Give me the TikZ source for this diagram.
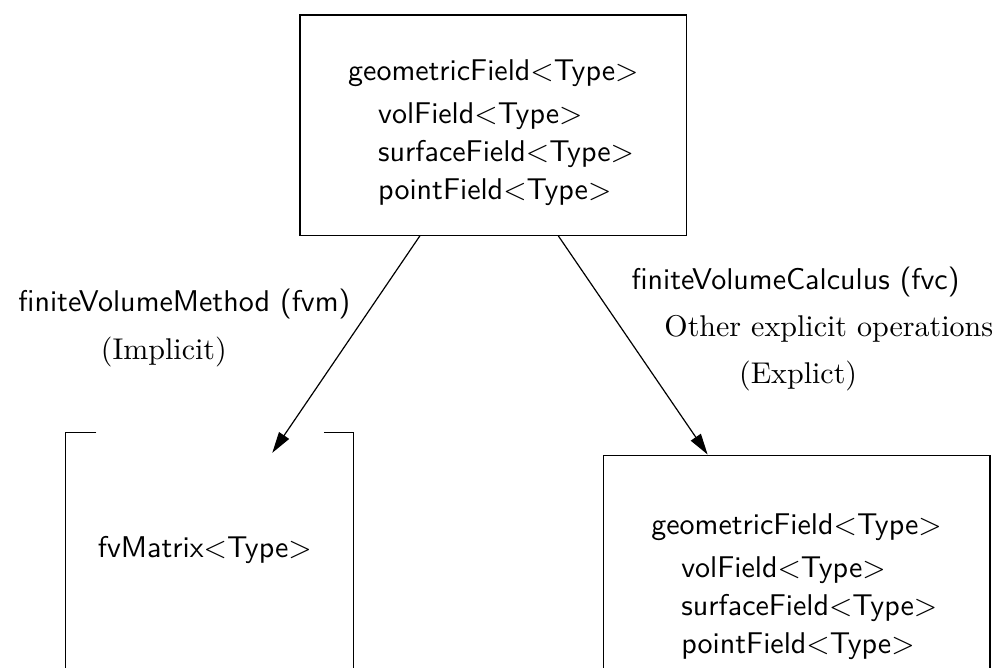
\documentclass[tikz,border=0pt]{standalone}
\usepackage{tikz}
\usetikzlibrary{positioning, calc, arrows.meta}
\newcommand{\tmpl}[1]{\textsf{#1}$<$\textsf{Type}$>$}
\newcommand{\fieldlist}{\tmpl{geometricField}\rule{0pt}{12pt}\\[2.3pt]
  \hspace*{10pt}\tmpl{volField}\\[0.7pt]
  \hspace*{10pt}\tmpl{surfaceField}\\[0.7pt]
  \hspace*{10pt}\tmpl{pointField}}
\tikzset{fieldbox/.style={rectangle, draw=black, minimum width=4.53cm, minimum height=2.58cm, align=left, inner sep=0pt},
         openbox/.style={rectangle, minimum width=3.36cm, minimum height=2.9cm, inner sep=0pt},
         lbl/.style={anchor=base, inner sep=0pt},
         link/.style={-{Triangle[length=7pt, width=4pt]}}}

\begin{document}
\begin{tikzpicture}
        \useasboundingbox (0,0) rectangle (11.68,7.825);
        \node (geo)[fieldbox] at (5.78,6.36) {\fieldlist};
        \node (fvc)[fieldbox, minimum height=2.91cm, anchor=north west] at (7.06,2.50) {\fieldlist};
        \node (mat)[openbox, anchor=north west] at (0.77,2.76) {};
        \node (mattxt)[lbl] at (2.40,1.29) {\tmpl{fvMatrix}};
        \draw ($(mat.north west)+(0.36,0)$) -- (mat.north west) -- (mat.south west);
        \draw ($(mat.north east)+(-0.35,0)$) -- (mat.north east) -- (mat.south east);
        \coordinate (mattip) at (3.19,2.52);
        \draw [link] ($(geo.south)+(-0.86,0)$) -- (mattip);
        \draw [link] ($(geo.south)+(0.76,0)$) -- ($(fvc.north west)+(1.23,0)$);
        \node (fvmlbl)[lbl] at (2.16,4.18) {\textsf{finiteVolumeMethod (fvm)}};
        \node (implbl)[lbl] at (1.92,3.61) {(Implicit)};
        \node (fvclbl)[lbl] at (9.32,4.43) {\textsf{finiteVolumeCalculus (fvc)}};
        \node (othlbl)[lbl] at (9.71,3.88) {Other explicit operations};
        \node (explbl)[lbl] at (9.35,3.33) {(Explict)};
    \end{tikzpicture}
\end{document}
